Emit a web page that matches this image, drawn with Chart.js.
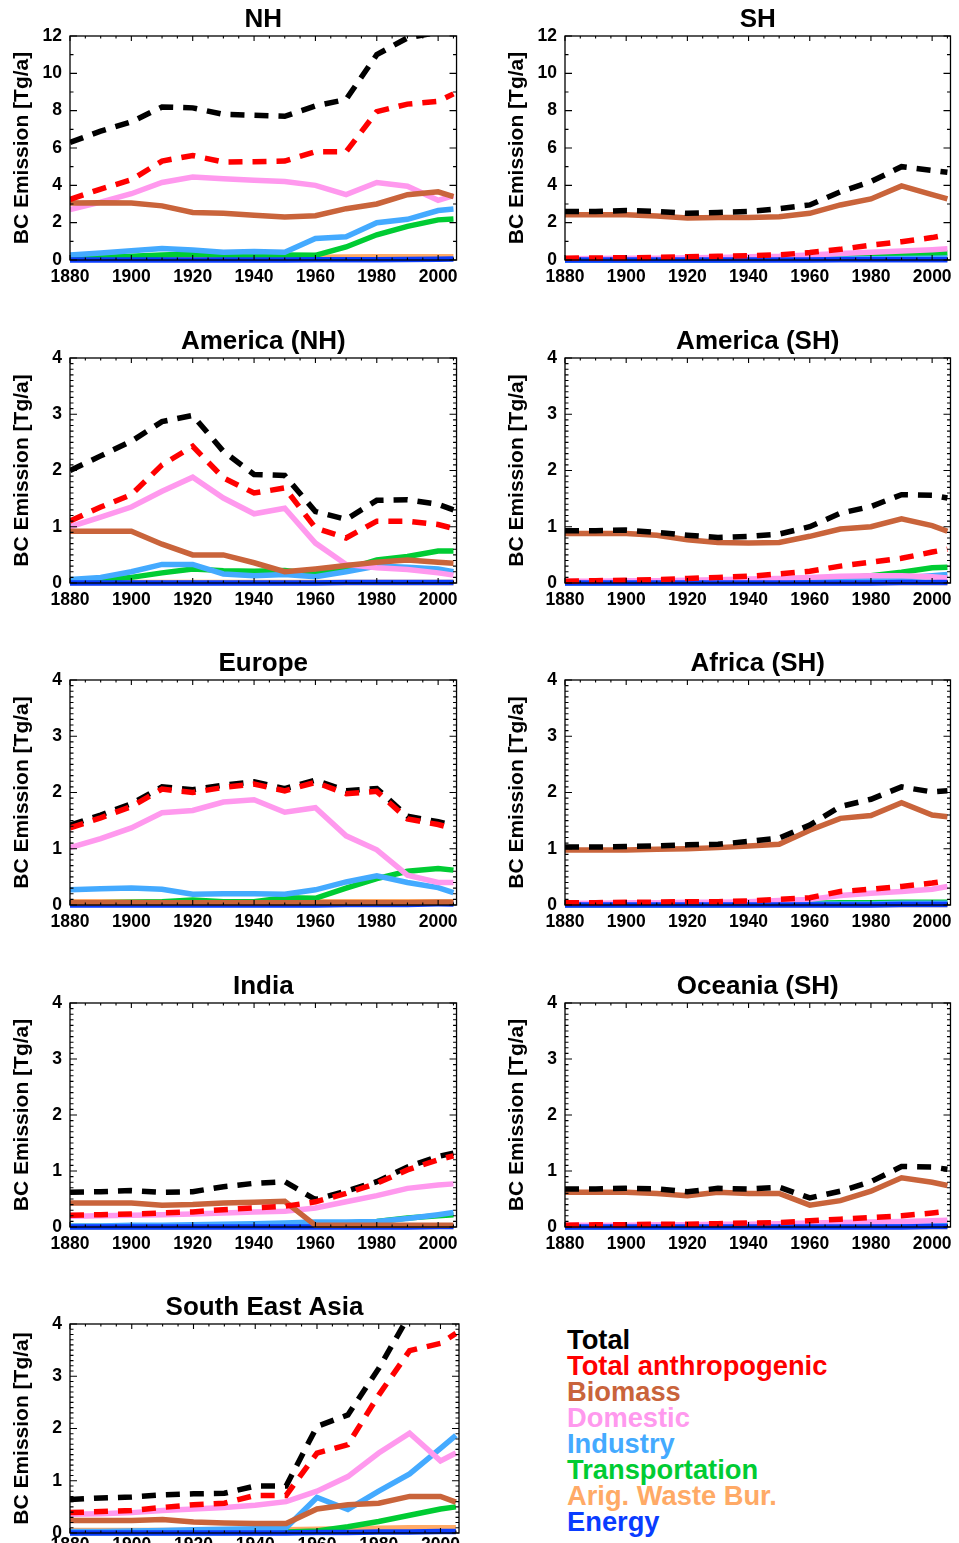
<!DOCTYPE html>
<html>
<head>
<meta charset="utf-8">
<script src="https://cdn.jsdelivr.net/npm/chart.js@4.4.1/dist/chart.umd.min.js"></script>
<style>
  html, body { margin: 0; padding: 0; background: #fff; }
  body { width: 959px; height: 1543px; overflow: hidden; position: relative; font-family: "Liberation Sans", Arial, sans-serif; }
  canvas.panel { position: absolute; }
  #legend { position: absolute; left: 567px; top: 1327px; font-weight: bold; font-size: 27.3px; line-height: 26px; white-space: nowrap; }
  #legend div { height: 26px; }
</style>
</head>
<body>
<div id="legend"></div>
<script>
// ---------------- DATA ----------------
const years = [1880, 1890, 1900, 1910, 1920, 1930, 1940, 1950, 1960, 1970, 1980, 1990, 2000, 2005];
const xTickLabels = [1880, 1900, 1920, 1940, 1960, 1980, 2000];
const yTicksGlobal = [0, 2, 4, 6, 8, 10, 12];
const yTicksRegional = [0, 1, 2, 3, 4];
const seriesNames = ['Total', 'Total anthropogenic', 'Biomass', 'Domestic', 'Industry', 'Transportation', 'Arig. Waste Bur.', 'Energy'];
const panelTitles = ['NH', 'SH', 'America (NH)', 'America (SH)', 'Europe', 'Africa (SH)', 'India', 'Oceania (SH)', 'South East Asia'];

// NH
const nh_total     = [6.3, 6.9, 7.4, 8.2, 8.15, 7.8, 7.75, 7.7, 8.25, 8.6, 11.0, 11.9, 12.2, 12.5];
const nh_anthro    = [3.25, 3.8, 4.3, 5.3, 5.6, 5.25, 5.27, 5.3, 5.8, 5.8, 7.95, 8.35, 8.5, 8.9];
const nh_biomass   = [3.05, 3.07, 3.05, 2.9, 2.55, 2.5, 2.4, 2.3, 2.37, 2.75, 3.0, 3.5, 3.65, 3.4];
const nh_domestic  = [2.7, 3.1, 3.55, 4.15, 4.45, 4.35, 4.27, 4.2, 4.0, 3.5, 4.15, 3.95, 3.2, 3.45];
const nh_industry  = [0.27, 0.38, 0.5, 0.62, 0.53, 0.41, 0.45, 0.41, 1.15, 1.25, 2.0, 2.18, 2.65, 2.73];
const nh_transport = [0.08, 0.14, 0.2, 0.27, 0.32, 0.27, 0.27, 0.27, 0.25, 0.7, 1.35, 1.8, 2.15, 2.2];
const nh_waste     = [0.14, 0.14, 0.14, 0.14, 0.14, 0.14, 0.14, 0.14, 0.15, 0.16, 0.17, 0.18, 0.18, 0.18];
const nh_energy    = [0.0, 0.0, 0.0, 0.0, 0.0, 0.0, 0.0, 0.0, 0.01, 0.01, 0.02, 0.03, 0.04, 0.05];

// SH
const sh_total     = [2.6, 2.6, 2.65, 2.6, 2.5, 2.55, 2.6, 2.75, 2.95, 3.65, 4.2, 5.0, 4.8, 4.7];
const sh_anthro    = [0.1, 0.11, 0.12, 0.14, 0.17, 0.2, 0.23, 0.28, 0.4, 0.57, 0.8, 0.98, 1.2, 1.35];
const sh_biomass   = [2.42, 2.42, 2.42, 2.36, 2.25, 2.28, 2.28, 2.32, 2.5, 2.95, 3.27, 3.97, 3.5, 3.27];
const sh_domestic  = [0.07, 0.08, 0.09, 0.1, 0.12, 0.14, 0.17, 0.2, 0.27, 0.35, 0.42, 0.48, 0.55, 0.6];
const sh_industry  = [0.02, 0.02, 0.02, 0.03, 0.03, 0.03, 0.04, 0.04, 0.05, 0.06, 0.07, 0.08, 0.1, 0.11];
const sh_transport = [0.01, 0.01, 0.01, 0.01, 0.02, 0.02, 0.03, 0.04, 0.08, 0.13, 0.2, 0.28, 0.35, 0.38];
const sh_waste     = [0.04, 0.04, 0.04, 0.04, 0.04, 0.04, 0.04, 0.05, 0.05, 0.05, 0.05, 0.05, 0.06, 0.06];
const sh_energy    = [0.0, 0.0, 0.0, 0.0, 0.0, 0.0, 0.0, 0.0, 0.0, 0.01, 0.01, 0.01, 0.01, 0.01];

// America (NH)
const amn_total     = [2.0, 2.26, 2.52, 2.87, 2.98, 2.34, 1.93, 1.91, 1.27, 1.13, 1.47, 1.48, 1.4, 1.3];
const amn_anthro    = [1.1, 1.35, 1.57, 2.1, 2.43, 1.87, 1.6, 1.69, 0.98, 0.8, 1.1, 1.1, 1.04, 0.97];
const amn_biomass   = [0.92, 0.92, 0.92, 0.69, 0.5, 0.5, 0.36, 0.2, 0.25, 0.31, 0.37, 0.41, 0.37, 0.35];
const amn_domestic  = [1.0, 1.17, 1.35, 1.63, 1.88, 1.51, 1.23, 1.33, 0.71, 0.33, 0.27, 0.24, 0.18, 0.14];
const amn_industry  = [0.06, 0.1, 0.2, 0.33, 0.33, 0.16, 0.13, 0.15, 0.11, 0.2, 0.3, 0.28, 0.25, 0.2];
const amn_transport = [0.03, 0.06, 0.1, 0.18, 0.25, 0.22, 0.21, 0.22, 0.16, 0.24, 0.41, 0.47, 0.57, 0.57];
const amn_waste     = [0.01, 0.01, 0.01, 0.01, 0.01, 0.01, 0.01, 0.01, 0.01, 0.01, 0.01, 0.01, 0.01, 0.01];
const amn_energy    = [0.0, 0.0, 0.0, 0.0, 0.0, 0.0, 0.0, 0.0, 0.0, 0.01, 0.01, 0.01, 0.01, 0.01];

// America (SH)
const ams_total     = [0.93, 0.93, 0.94, 0.9, 0.85, 0.81, 0.83, 0.87, 1.0, 1.24, 1.36, 1.57, 1.56, 1.51];
const ams_anthro    = [0.03, 0.04, 0.05, 0.06, 0.08, 0.1, 0.12, 0.16, 0.21, 0.3, 0.37, 0.44, 0.55, 0.6];
const ams_biomass   = [0.88, 0.88, 0.88, 0.85, 0.77, 0.72, 0.71, 0.72, 0.83, 0.96, 1.0, 1.14, 1.02, 0.92];
const ams_domestic  = [0.03, 0.03, 0.04, 0.04, 0.05, 0.06, 0.07, 0.08, 0.1, 0.12, 0.13, 0.13, 0.11, 0.09];
const ams_industry  = [0.01, 0.01, 0.02, 0.02, 0.02, 0.03, 0.03, 0.04, 0.05, 0.06, 0.07, 0.09, 0.13, 0.15];
const ams_transport = [0.01, 0.01, 0.01, 0.01, 0.02, 0.02, 0.03, 0.04, 0.06, 0.08, 0.13, 0.19, 0.27, 0.28];
const ams_waste     = [0.01, 0.01, 0.01, 0.01, 0.01, 0.01, 0.01, 0.01, 0.01, 0.01, 0.01, 0.01, 0.01, 0.01];
const ams_energy    = [0.0, 0.0, 0.0, 0.0, 0.0, 0.0, 0.0, 0.0, 0.0, 0.0, 0.0, 0.01, 0.01, 0.01];

// Europe
const eu_total     = [1.42, 1.6, 1.8, 2.1, 2.05, 2.13, 2.19, 2.07, 2.22, 2.03, 2.07, 1.58, 1.48, 1.42];
const eu_anthro    = [1.37, 1.55, 1.75, 2.06, 2.0, 2.09, 2.15, 2.03, 2.18, 1.98, 2.02, 1.53, 1.43, 1.36];
const eu_biomass   = [0.04, 0.04, 0.04, 0.04, 0.04, 0.04, 0.04, 0.04, 0.04, 0.04, 0.04, 0.04, 0.05, 0.05];
const eu_domestic  = [1.02, 1.18, 1.37, 1.64, 1.68, 1.83, 1.87, 1.65, 1.73, 1.23, 0.98, 0.53, 0.4, 0.4];
const eu_industry  = [0.27, 0.29, 0.3, 0.28, 0.19, 0.2, 0.2, 0.19, 0.27, 0.41, 0.52, 0.4, 0.31, 0.22];
const eu_transport = [0.03, 0.04, 0.05, 0.06, 0.09, 0.06, 0.06, 0.13, 0.12, 0.3, 0.47, 0.6, 0.65, 0.62];
const eu_waste     = [0.06, 0.06, 0.06, 0.06, 0.06, 0.06, 0.06, 0.06, 0.06, 0.06, 0.06, 0.06, 0.06, 0.06];
const eu_energy    = [0.0, 0.0, 0.0, 0.0, 0.0, 0.0, 0.0, 0.0, 0.0, 0.01, 0.01, 0.01, 0.02, 0.02];

// Africa (SH)
const af_total     = [1.03, 1.03, 1.04, 1.05, 1.07, 1.08, 1.13, 1.19, 1.42, 1.75, 1.88, 2.1, 2.01, 2.03];
const af_anthro    = [0.04, 0.04, 0.05, 0.05, 0.06, 0.06, 0.07, 0.1, 0.13, 0.24, 0.28, 0.33, 0.39, 0.43];
const af_biomass   = [0.98, 0.98, 0.98, 0.99, 1.0, 1.02, 1.05, 1.08, 1.33, 1.54, 1.59, 1.82, 1.6, 1.57];
const af_domestic  = [0.03, 0.03, 0.04, 0.04, 0.05, 0.05, 0.06, 0.08, 0.1, 0.17, 0.21, 0.24, 0.28, 0.33];
const af_industry  = [0.01, 0.01, 0.01, 0.01, 0.01, 0.01, 0.01, 0.02, 0.02, 0.02, 0.02, 0.03, 0.03, 0.03];
const af_transport = [0.01, 0.01, 0.01, 0.01, 0.01, 0.01, 0.02, 0.02, 0.03, 0.04, 0.04, 0.05, 0.05, 0.05];
const af_waste     = [0.01, 0.01, 0.01, 0.01, 0.01, 0.01, 0.01, 0.01, 0.01, 0.01, 0.01, 0.01, 0.01, 0.01];
const af_energy    = [0.0, 0.0, 0.0, 0.0, 0.0, 0.0, 0.0, 0.0, 0.0, 0.0, 0.0, 0.01, 0.01, 0.01];

// India
const in_total     = [0.62, 0.63, 0.65, 0.62, 0.63, 0.72, 0.78, 0.81, 0.49, 0.64, 0.81, 1.07, 1.26, 1.32];
const in_anthro    = [0.21, 0.22, 0.23, 0.25, 0.27, 0.31, 0.34, 0.37, 0.45, 0.6, 0.78, 1.02, 1.2, 1.27];
const in_biomass   = [0.43, 0.43, 0.43, 0.39, 0.4, 0.43, 0.44, 0.46, 0.03, 0.03, 0.03, 0.03, 0.03, 0.03];
const in_domestic  = [0.19, 0.2, 0.21, 0.22, 0.23, 0.25, 0.27, 0.28, 0.34, 0.45, 0.56, 0.69, 0.75, 0.77];
const in_industry  = [0.02, 0.02, 0.03, 0.03, 0.04, 0.05, 0.06, 0.07, 0.09, 0.09, 0.1, 0.15, 0.22, 0.26];
const in_transport = [0.01, 0.01, 0.01, 0.01, 0.01, 0.02, 0.02, 0.03, 0.04, 0.07, 0.1, 0.16, 0.2, 0.22];
const in_waste     = [0.01, 0.01, 0.01, 0.01, 0.01, 0.01, 0.01, 0.01, 0.01, 0.01, 0.01, 0.01, 0.01, 0.01];
const in_energy    = [0.0, 0.0, 0.0, 0.0, 0.0, 0.0, 0.0, 0.0, 0.0, 0.0, 0.0, 0.0, 0.01, 0.01];

// Oceania (SH)
const oc_total     = [0.68, 0.68, 0.69, 0.68, 0.63, 0.69, 0.68, 0.71, 0.52, 0.64, 0.81, 1.08, 1.07, 1.03];
const oc_anthro    = [0.03, 0.04, 0.04, 0.05, 0.05, 0.06, 0.07, 0.08, 0.11, 0.14, 0.17, 0.2, 0.25, 0.28];
const oc_biomass   = [0.62, 0.62, 0.62, 0.6, 0.56, 0.62, 0.6, 0.6, 0.39, 0.47, 0.64, 0.88, 0.8, 0.74];
const oc_domestic  = [0.03, 0.03, 0.03, 0.04, 0.04, 0.05, 0.05, 0.06, 0.07, 0.08, 0.09, 0.1, 0.11, 0.12];
const oc_industry  = [0.01, 0.01, 0.01, 0.01, 0.01, 0.01, 0.02, 0.02, 0.02, 0.02, 0.03, 0.03, 0.03, 0.03];
const oc_transport = [0.01, 0.01, 0.01, 0.01, 0.01, 0.01, 0.02, 0.02, 0.03, 0.04, 0.05, 0.06, 0.07, 0.07];
const oc_waste     = [0.01, 0.01, 0.01, 0.01, 0.01, 0.01, 0.01, 0.01, 0.01, 0.01, 0.01, 0.01, 0.01, 0.01];
const oc_energy    = [0.0, 0.0, 0.0, 0.0, 0.0, 0.0, 0.0, 0.0, 0.0, 0.0, 0.0, 0.0, 0.01, 0.01];

// South East Asia
const sea_total     = [0.64, 0.67, 0.69, 0.73, 0.75, 0.76, 0.9, 0.9, 2.04, 2.26, 3.15, 4.18, 4.33, 4.43];
const sea_anthro    = [0.39, 0.41, 0.43, 0.49, 0.54, 0.57, 0.72, 0.72, 1.53, 1.69, 2.64, 3.49, 3.63, 3.82];
const sea_biomass   = [0.24, 0.24, 0.24, 0.26, 0.21, 0.19, 0.18, 0.18, 0.46, 0.54, 0.57, 0.7, 0.7, 0.59];
const sea_domestic  = [0.36, 0.37, 0.39, 0.43, 0.46, 0.49, 0.53, 0.6, 0.8, 1.08, 1.53, 1.91, 1.38, 1.53];
const sea_industry  = [0.03, 0.03, 0.04, 0.05, 0.06, 0.07, 0.08, 0.1, 0.68, 0.45, 0.8, 1.13, 1.62, 1.87];
const sea_transport = [0.01, 0.01, 0.01, 0.01, 0.01, 0.01, 0.02, 0.02, 0.04, 0.12, 0.22, 0.34, 0.46, 0.5];
const sea_waste     = [0.05, 0.05, 0.05, 0.05, 0.05, 0.05, 0.05, 0.06, 0.07, 0.08, 0.09, 0.1, 0.1, 0.1];
const sea_energy    = [0.0, 0.0, 0.0, 0.0, 0.0, 0.0, 0.0, 0.0, 0.01, 0.01, 0.02, 0.02, 0.03, 0.03];

// ---------------- STYLE ----------------
const FONT = '"Liberation Sans", Arial, Helvetica, sans-serif';
const seriesColors = ['#000000', '#ff0000', '#c9643b', '#ff99ee', '#44aaff', '#00cc33', '#ffaa66', '#0a3cff'];
const seriesDash = [[14, 10], [14, 10], [], [], [], [], [], []];
// lower = drawn on top
const seriesOrder = [1, 0, 2, 4, 5, 6, 7, 3];

const regionData = [
  [nh_total, nh_anthro, nh_biomass, nh_domestic, nh_industry, nh_transport, nh_waste, nh_energy],
  [sh_total, sh_anthro, sh_biomass, sh_domestic, sh_industry, sh_transport, sh_waste, sh_energy],
  [amn_total, amn_anthro, amn_biomass, amn_domestic, amn_industry, amn_transport, amn_waste, amn_energy],
  [ams_total, ams_anthro, ams_biomass, ams_domestic, ams_industry, ams_transport, ams_waste, ams_energy],
  [eu_total, eu_anthro, eu_biomass, eu_domestic, eu_industry, eu_transport, eu_waste, eu_energy],
  [af_total, af_anthro, af_biomass, af_domestic, af_industry, af_transport, af_waste, af_energy],
  [in_total, in_anthro, in_biomass, in_domestic, in_industry, in_transport, in_waste, in_energy],
  [oc_total, oc_anthro, oc_biomass, oc_domestic, oc_industry, oc_transport, oc_waste, oc_energy],
  [sea_total, sea_anthro, sea_biomass, sea_domestic, sea_industry, sea_transport, sea_waste, sea_energy]
];

// plot-area geometry per panel (page pixels)
const colLeft = [70, 565];
const colWidth = [389, 388];
const rowTop = [36, 358, 680, 1003, 1324];
const rowHeight = [224, 225, 225, 224, 209];
const LEFT_M = 70, TOP_M = 40, BOTTOM_M = 32, RIGHT_M = 6;

// inward ticks + frame
const frameTicks = {
  id: 'frameTicks',
  afterDatasetsDraw(chart, args, opts) {
    const { ctx, chartArea } = chart;
    const { left, right, top, bottom } = chartArea;
    const x = chart.scales.x, y = chart.scales.y;
    ctx.save();
    ctx.strokeStyle = '#000';
    ctx.lineWidth = 1.3;
    ctx.strokeRect(left, top, right - left, bottom - top);
    ctx.beginPath();
    for (let v = x.min; v <= x.max + 1e-9; v += opts.xMinor) {
      const px = x.getPixelForValue(v);
      const len = xTickLabels.includes(v) ? 5 : 2.5;
      ctx.moveTo(px, bottom); ctx.lineTo(px, bottom - len);
      ctx.moveTo(px, top); ctx.lineTo(px, top + len);
    }
    const n = Math.round((y.max - y.min) / opts.yMinor);
    for (let i = 0; i <= n; i++) {
      const v = y.min + i * opts.yMinor;
      const py = y.getPixelForValue(v);
      const r = v / opts.yMajor;
      const len = Math.abs(r - Math.round(r)) < 1e-6 ? 7 : 3.5;
      ctx.moveTo(left, py); ctx.lineTo(left + len, py);
      ctx.moveTo(right, py); ctx.lineTo(right - len, py);
    }
    ctx.lineWidth = 1.1;
    ctx.stroke();
    ctx.restore();
  }
};

panelTitles.forEach((title, p) => {
  const col = p % 2, row = Math.floor(p / 2);
  const global = p < 2;
  const yTicks = global ? yTicksGlobal : yTicksRegional;
  const w = colWidth[col] + LEFT_M + RIGHT_M;
  const h = rowHeight[row] + TOP_M + BOTTOM_M;
  const cv = document.createElement('canvas');
  cv.className = 'panel';
  cv.width = w; cv.height = h;
  cv.style.left = (colLeft[col] - LEFT_M) + 'px';
  cv.style.top = (rowTop[row] - TOP_M) + 'px';
  cv.style.width = w + 'px'; cv.style.height = h + 'px';
  document.body.appendChild(cv);

  const datasets = seriesNames.map((name, s) => ({
    label: name,
    data: years.map((yr, i) => ({ x: yr, y: regionData[p][s][i] })),
    borderColor: seriesColors[s],
    backgroundColor: seriesColors[s],
    borderWidth: 5.5,
    borderDash: seriesDash[s],
    borderCapStyle: 'butt',
    pointRadius: 0,
    tension: 0,
    fill: false,
    clip: { left: 0, top: 0, right: 0, bottom: 3 },
    order: seriesOrder[s]
  }));

  new Chart(cv, {
    type: 'line',
    data: { datasets },
    options: {
      responsive: false,
      animation: false,
      devicePixelRatio: 1,
      events: [],
      layout: { padding: { left: 0, right: RIGHT_M, top: 0, bottom: 0 } },
      plugins: {
        legend: { display: false },
        tooltip: { enabled: false },
        title: {
          display: true, text: title, color: '#000', fullSize: false,
          font: { family: FONT, size: 26, weight: 'bold', lineHeight: 1.2 },
          padding: { top: 8, bottom: 0.8 }
        },
        frameTicks: { xMinor: 5, yMinor: global ? 1 : 0.1, yMajor: global ? 2 : 1 }
      },
      scales: {
        x: {
          type: 'linear', min: 1880, max: 2006,
          afterBuildTicks: s => { s.ticks = xTickLabels.map(v => ({ value: v })); },
          afterFit: s => { s.height = BOTTOM_M; },
          grid: { display: false, drawTicks: false },
          border: { display: false },
          ticks: {
            autoSkip: false, maxRotation: 0, color: '#000',
            padding: row === 4 ? 2 : 7,
            font: { family: FONT, size: 17.5, weight: 'bold', lineHeight: 1.2 },
            callback: v => String(v)
          }
        },
        y: {
          type: 'linear', min: 0, max: global ? 12 : 4,
          afterBuildTicks: s => { s.ticks = yTicks.map(v => ({ value: v })); },
          afterFit: s => { s.width = LEFT_M; },
          grid: { display: false, drawTicks: false },
          border: { display: false },
          ticks: {
            color: '#000', padding: 8,
            font: { family: FONT, size: 17.5, weight: 'bold', lineHeight: 1.2 },
            callback: v => String(v)
          },
          title: {
            display: true, text: 'BC Emission [Tg/a]', color: '#000',
            font: { family: FONT, size: 21, weight: 'bold', lineHeight: 1.2 },
            padding: { top: 9.5, bottom: 0 }
          }
        }
      }
    },
    plugins: [frameTicks]
  });
});

// legend text
const legendEl = document.getElementById('legend');
seriesNames.forEach((name, s) => {
  const d = document.createElement('div');
  d.textContent = name;
  d.style.color = seriesColors[s];
  legendEl.appendChild(d);
});
</script>
</body>
</html>
